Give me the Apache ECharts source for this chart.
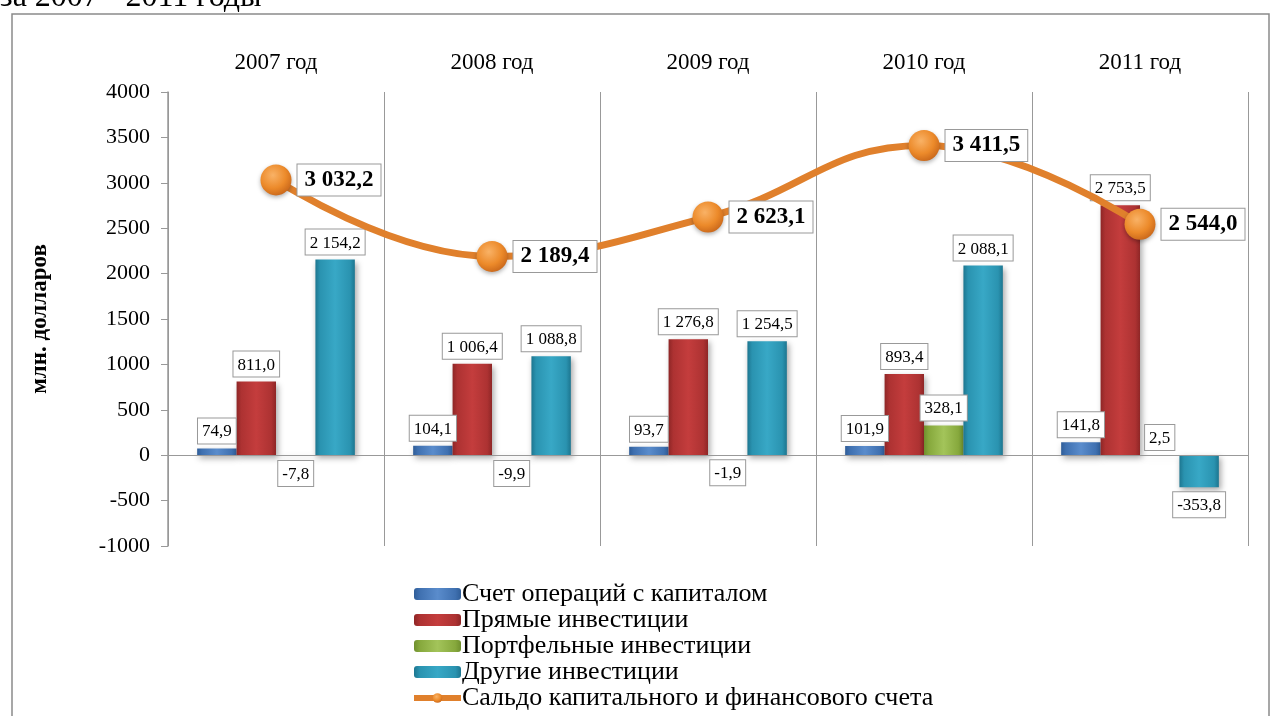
<!DOCTYPE html>
<html>
<head>
<meta charset="utf-8">
<script src="https://cdn.jsdelivr.net/npm/echarts@6/dist/echarts.min.js"></script>
<style>
html, body { margin: 0; padding: 0; background: #fff; }
#chart { width: 1280px; height: 716px; }
</style>
</head>
<body>
<div id="chart"></div>
<script>
var years = ['2007 год', '2008 год', '2009 год', '2010 год', '2011 год'];
var capital = [74.9, 104.1, 93.7, 101.9, 141.8];
var direct = [811.0, 1006.4, 1276.8, 893.4, 2753.5];
var portfolio = [-7.8, -9.9, -1.9, 328.1, 2.5];
var other = [2154.2, 1088.8, 1254.5, 2088.1, -353.8];
var balance = [3032.2, 2189.4, 2623.1, 3411.5, 2544.0];

var serif = '"Liberation Serif", "DejaVu Serif", serif';

function fmt(v) {
    var s = Math.abs(v).toFixed(1).split('.');
    var int = s[0].replace(/\B(?=(\d{3})+(?!\d))/g, ' ');
    return (v < 0 ? '-' : '') + int + ',' + s[1];
}

function grad(dark, mid, light) {
    return new echarts.graphic.LinearGradient(0, 0, 1, 0, [
        { offset: 0, color: dark },
        { offset: 0.12, color: mid },
        { offset: 0.5, color: light },
        { offset: 0.88, color: mid },
        { offset: 1, color: dark }
    ]);
}

var barLabel = {
    show: true,
    position: 'top',
    distance: 5,
    formatter: function (p) { return fmt(p.value); },
    fontFamily: serif,
    fontSize: 17,
    color: '#000',
    backgroundColor: '#fff',
    borderColor: '#999',
    borderWidth: 1,
    padding: [5, 4, 3, 4]
};

function barData(arr) {
    return arr.map(function (v) {
        return v < 0 ? { value: v, label: { position: 'bottom' } } : v;
    });
}

function barSeries(name, arr, color) {
    return {
        name: name,
        type: 'bar',
        data: barData(arr),
        barGap: '0%',
        barCategoryGap: '27%',
        itemStyle: {
            color: color,
            shadowBlur: 6,
            shadowColor: 'rgba(0,0,0,0.35)',
            shadowOffsetY: 3,
            shadowOffsetX: 2
        },
        label: barLabel
    };
}

var series = [
    barSeries('Счет операций с капиталом', capital, grad('#2f5d98', '#3f70b0', '#5a8ccc')),
    barSeries('Прямые инвестиции', direct, grad('#8e2626', '#ad3232', '#c43d3d')),
    barSeries('Портфельные инвестиции', portfolio, grad('#6f8f2e', '#86a83c', '#a3c45a')),
    barSeries('Другие инвестиции', other, grad('#1d7690', '#2a93b0', '#38a8c6')),
    {
        name: 'Сальдо капитального и финансового счета',
        type: 'line',
        data: balance,
        smooth: 0.45,
        z: 5,
        symbol: 'circle',
        symbolSize: 31,
        lineStyle: { color: '#e0802c', width: 7 },
        itemStyle: {
            color: new echarts.graphic.RadialGradient(0.4, 0.35, 0.7, [
                { offset: 0, color: '#f9b266' },
                { offset: 0.6, color: '#ec8a2a' },
                { offset: 1, color: '#c8661a' }
            ]),
            shadowBlur: 4,
            shadowColor: 'rgba(0,0,0,0.3)',
            shadowOffsetY: 2
        },
        label: {
            show: true,
            position: 'right',
            distance: 6,
            formatter: function (p) { return fmt(p.value); },
            fontFamily: serif,
            fontSize: 23,
            fontWeight: 'bold',
            color: '#000',
            backgroundColor: '#fff',
            borderColor: '#999',
            borderWidth: 1,
            padding: [5, 7, 3, 7]
        }
    }
];

series[0].markLine = {
    silent: true,
    symbol: 'none',
    label: { show: false },
    lineStyle: { color: '#999', width: 1, type: 'solid' },
    data: [{ yAxis: 0 }]
};

var chart = echarts.init(document.getElementById('chart'));
chart.setOption({
    animation: false,
    textStyle: { fontFamily: serif },
    graphic: [
        {
            type: 'text', left: 0, top: -18,
            style: { text: 'за 2007 - 2011 годы', font: '32px ' + serif, fill: '#000' }
        },
        {
            type: 'rect', shape: { x: 12, y: 14, width: 1257, height: 720 },
            style: { fill: null, stroke: '#8a8a8a', lineWidth: 1.5 }
        }
    ],
    grid: { left: 168, right: 32, top: 92, bottom: 170 },
    legend: {
        orient: 'vertical',
        left: 406,
        top: 576,
        height: 200,
        itemWidth: 47,
        itemHeight: 12,
        itemGap: 0,
        textStyle: { fontFamily: serif, fontSize: 26, color: '#000', padding: [0, 0, 0, -4] },
        data: [
            { name: 'Счет операций с капиталом', icon: 'roundRect' },
            { name: 'Прямые инвестиции', icon: 'roundRect' },
            { name: 'Портфельные инвестиции', icon: 'roundRect' },
            { name: 'Другие инвестиции', icon: 'roundRect' },
            { name: 'Сальдо капитального и финансового счета', lineStyle: { width: 6 } }
        ]
    },
    xAxis: {
        type: 'category',
        position: 'top',
        data: years,
        axisLine: { show: false },
        axisTick: { show: false },
        axisLabel: { fontFamily: serif, fontSize: 23, color: '#000', margin: 18 },
        splitLine: { show: true, lineStyle: { color: '#999', width: 1 } }
    },
    yAxis: {
        type: 'value',
        min: -1000,
        max: 4000,
        interval: 500,
        name: 'млн. долларов',
        nameLocation: 'middle',
        nameGap: 116,
        nameTextStyle: { fontFamily: serif, fontSize: 23, fontWeight: 'bold', color: '#000' },
        axisLine: { show: true, lineStyle: { color: '#999', width: 1.5 } },
        axisTick: { show: true, length: 7, lineStyle: { color: '#999' } },
        axisLabel: {
            fontFamily: serif, fontSize: 22, color: '#000', margin: 18,
            formatter: function (v) { return String(v); }
        },
        splitLine: { show: false }
    },
    series: series
});
</script>
</body>
</html>
